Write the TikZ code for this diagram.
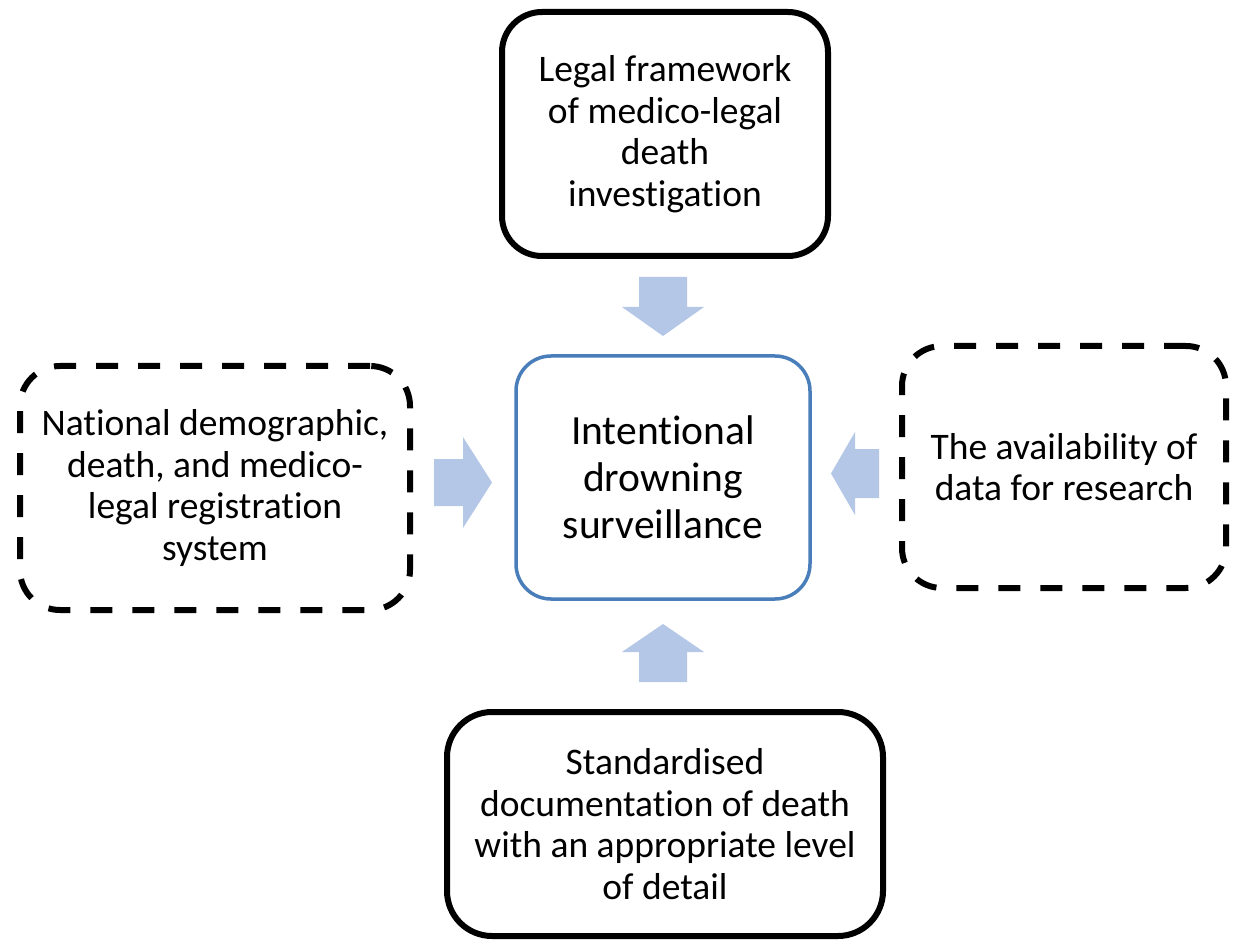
\documentclass[tikz,border=0pt]{standalone}
\usepackage{fontspec}
\setmainfont{Carlito}[Ligatures=NoCommon]
\definecolor{cblue}{RGB}{74,126,187}
\definecolor{afill}{RGB}{180,199,231}
\begin{document}
\begin{tikzpicture}[x=1pt,y=-1pt,
  box/.style={rounded corners=40pt, line width=6pt, draw=black, align=center, inner sep=0pt, font=\fontsize{37.5}{41.5}\selectfont},
  dbox/.style={box, dash pattern=on 22pt off 20pt},
  cbox/.style={rounded corners=35pt, line width=3.5pt, draw=cblue, align=center, inner sep=0pt, font=\fontsize{41.5}{47}\selectfont},
  barrow/.style={fill=afill, draw=none}]
\useasboundingbox[fill=white] (0,0) rectangle (1235,941);

\node[box, minimum width=326pt, minimum height=244pt] (legal) at (665,134)
  {Legal framework\\of medico-legal\\death\\investigation};
\node[cbox, minimum width=294pt, minimum height=243pt] (center) at (663,477.5)
  {Intentional\\drowning\\surveillance};
\node[dbox, minimum width=390pt, minimum height=244pt] (national) at (215,488)
  {National demographic,\\death, and medico-\\legal registration\\system};
\node[dbox, minimum width=324pt, minimum height=242pt] (avail) at (1064,467)
  {The availability of\\data for research};
\node[box, rounded corners=45pt, minimum width=436pt, minimum height=224pt] (std) at (665,824)
  {Standardised\\documentation of death\\with an appropriate level\\of detail};

\fill[barrow] (639,277) -- (687,277) -- (687,307) -- (704,307) -- (663,336) -- (622,307) -- (639,307) -- cycle;
\fill[barrow] (639,682) -- (687,682) -- (687,652) -- (704,652) -- (663,624) -- (622,652) -- (639,652) -- cycle;
\fill[barrow] (434,459) -- (463,459) -- (463,437) -- (492,482.5) -- (463,528) -- (463,506) -- (434,506) -- cycle;
\fill[barrow] (879,449) -- (855,449) -- (855,432) -- (831,473.5) -- (855,515) -- (855,498) -- (879,498) -- cycle;
\end{tikzpicture}
\end{document}
